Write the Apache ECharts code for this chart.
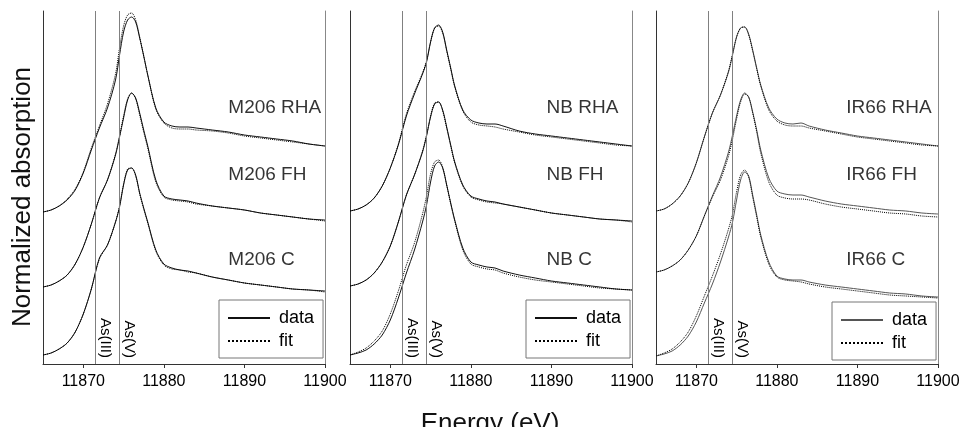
<!DOCTYPE html>
<html><head><meta charset="utf-8">
<script src="https://cdn.jsdelivr.net/npm/echarts@6/dist/echarts.min.js"></script>
<style>html,body{margin:0;padding:0;background:#fff}#c{width:963px;height:427px}</style>
</head><body><div id="c"></div>
<script>
// Energy grid (eV)
const energy = [11865, 11866, 11867, 11868, 11869, 11870, 11871, 11872, 11873, 11874, 11874.5, 11875, 11875.5, 11876, 11876.5, 11877, 11877.5, 11878, 11879, 11880, 11881, 11882, 11883, 11884, 11886, 11888, 11890, 11892, 11894, 11896, 11898, 11900];

// M206 (stacked, offset normalized absorption)
const m206RHA    = [1.52,1.54,1.58,1.64,1.74,1.91,2.14,2.36,2.56,2.84,3.09,3.32,3.44,3.47,3.42,3.26,3.08,2.89,2.56,2.42,2.38,2.37,2.37,2.36,2.34,2.32,2.29,2.27,2.25,2.23,2.20,2.18];
const m206RHAFit = [1.52,1.54,1.58,1.65,1.75,1.92,2.16,2.38,2.60,2.90,3.16,3.38,3.49,3.51,3.44,3.27,3.08,2.89,2.55,2.41,2.36,2.35,2.35,2.34,2.33,2.31,2.28,2.26,2.24,2.22,2.20,2.18];
const m206FH     = [0.77,0.79,0.83,0.89,1.00,1.17,1.40,1.66,1.84,2.09,2.27,2.46,2.64,2.71,2.66,2.51,2.34,2.18,1.84,1.68,1.65,1.64,1.63,1.61,1.58,1.56,1.54,1.51,1.49,1.47,1.45,1.44];
const m206FHFit  = [0.77,0.79,0.83,0.89,1.00,1.17,1.40,1.66,1.84,2.10,2.28,2.48,2.65,2.71,2.65,2.49,2.32,2.16,1.82,1.67,1.64,1.63,1.62,1.60,1.58,1.56,1.54,1.51,1.49,1.47,1.45,1.43];
const m206C      = [0.09,0.11,0.15,0.21,0.32,0.50,0.75,1.06,1.19,1.42,1.57,1.79,1.94,1.96,1.89,1.71,1.56,1.42,1.14,1.00,0.96,0.94,0.93,0.91,0.87,0.84,0.81,0.79,0.77,0.75,0.74,0.73];
const m206CFit   = [0.09,0.11,0.15,0.21,0.32,0.50,0.75,1.05,1.19,1.42,1.58,1.80,1.95,1.96,1.88,1.70,1.55,1.41,1.13,0.99,0.95,0.94,0.92,0.91,0.87,0.84,0.81,0.79,0.77,0.75,0.74,0.72];

// NB
const nbRHA    = [1.53,1.55,1.59,1.66,1.78,1.96,2.19,2.48,2.70,2.90,3.02,3.22,3.36,3.39,3.32,3.14,2.96,2.78,2.54,2.44,2.41,2.40,2.40,2.38,2.33,2.30,2.28,2.26,2.24,2.22,2.20,2.18];
const nbRHAFit = [1.53,1.55,1.59,1.66,1.78,1.96,2.20,2.50,2.72,2.91,3.03,3.22,3.36,3.38,3.31,3.13,2.95,2.77,2.53,2.42,2.39,2.38,2.37,2.35,2.32,2.29,2.27,2.25,2.23,2.21,2.19,2.18];
const nbFH     = [0.78,0.80,0.84,0.91,1.02,1.18,1.42,1.69,1.89,2.12,2.28,2.47,2.60,2.62,2.54,2.37,2.19,2.02,1.79,1.68,1.65,1.63,1.62,1.60,1.57,1.54,1.51,1.49,1.47,1.45,1.44,1.43];
const nbFHFit  = [0.78,0.80,0.84,0.91,1.02,1.18,1.42,1.69,1.89,2.13,2.29,2.48,2.61,2.62,2.53,2.36,2.18,2.01,1.78,1.67,1.64,1.62,1.61,1.60,1.57,1.54,1.51,1.49,1.47,1.45,1.44,1.42];
const nbC      = [0.09,0.11,0.14,0.20,0.29,0.44,0.66,0.91,1.14,1.42,1.59,1.82,1.98,2.02,1.96,1.79,1.61,1.44,1.16,1.02,0.99,0.97,0.96,0.93,0.89,0.86,0.83,0.81,0.79,0.77,0.75,0.74];
const nbCFit   = [0.09,0.12,0.16,0.23,0.33,0.50,0.73,0.99,1.21,1.50,1.68,1.90,2.02,2.04,1.97,1.79,1.60,1.43,1.14,1.00,0.97,0.95,0.94,0.91,0.87,0.84,0.82,0.80,0.78,0.76,0.75,0.74];

// IR66
const ir66RHA    = [1.53,1.55,1.60,1.68,1.81,2.01,2.27,2.51,2.69,2.92,3.09,3.27,3.36,3.37,3.30,3.14,2.96,2.79,2.56,2.45,2.41,2.40,2.41,2.38,2.34,2.31,2.28,2.26,2.24,2.22,2.20,2.18];
const ir66RHAFit = [1.53,1.55,1.60,1.68,1.81,2.01,2.27,2.51,2.69,2.93,3.10,3.27,3.36,3.37,3.29,3.13,2.95,2.78,2.54,2.43,2.39,2.38,2.38,2.36,2.33,2.30,2.27,2.25,2.23,2.21,2.19,2.18];
const ir66FH     = [0.92,0.94,0.98,1.04,1.14,1.28,1.48,1.68,1.87,2.12,2.29,2.48,2.64,2.71,2.67,2.52,2.34,2.14,1.86,1.73,1.70,1.69,1.69,1.67,1.63,1.60,1.58,1.56,1.54,1.53,1.51,1.50];
const ir66FHFit  = [0.92,0.94,0.98,1.04,1.14,1.28,1.48,1.67,1.84,2.08,2.25,2.45,2.62,2.70,2.67,2.51,2.32,2.11,1.82,1.69,1.66,1.65,1.65,1.64,1.60,1.57,1.55,1.53,1.51,1.50,1.48,1.47];
const ir66C      = [0.08,0.10,0.13,0.19,0.28,0.42,0.61,0.80,1.02,1.27,1.42,1.64,1.84,1.92,1.88,1.69,1.49,1.29,1.02,0.88,0.85,0.84,0.84,0.82,0.79,0.77,0.75,0.73,0.71,0.70,0.68,0.67];
const ir66CFit   = [0.08,0.11,0.15,0.22,0.32,0.48,0.68,0.88,1.10,1.35,1.50,1.72,1.89,1.94,1.87,1.67,1.47,1.27,1.00,0.87,0.84,0.83,0.82,0.80,0.77,0.75,0.73,0.71,0.69,0.68,0.67,0.66];

// Labels / references
const sampleNames = ['M206', 'NB', 'IR66'];
const treatments = ['RHA', 'FH', 'C'];
const labelEnergy = [11888, 11889.4, 11888.6];
const labelLevels = [2.56, 1.89, 1.04];
const asEnergies = [11871.5, 11874.5];
const asLabels = ['As(III)', 'As(V)'];
const tickValues = [11870, 11880, 11890, 11900];

const FONT = '"Liberation Sans", Arial, Helvetica, sans-serif';
const gridLefts = [43, 350, 656];
const legendPos = [[219, 300], [526, 300], [832, 302]];
const dataColors = ['#111111', '#111111', '#555555'];
const curves = [[m206RHA, m206FH, m206C], [nbRHA, nbFH, nbC], [ir66RHA, ir66FH, ir66C]];
const fits = [[m206RHAFit, m206FHFit, m206CFit], [nbRHAFit, nbFHFit, nbCFit], [ir66RHAFit, ir66FHFit, ir66CFit]];
const YMAX = 3.53;

const grid = [], xAxis = [], yAxis = [], series = [], legend = [];
sampleNames.forEach((name, i) => {
  grid.push({ left: gridLefts[i], top: 11, width: 282, height: 353 });
  xAxis.push({
    type: 'value', gridIndex: i, min: 11865, max: 11900,
    axisLine: { show: true, lineStyle: { color: '#333', width: 1 } },
    axisTick: { show: true, customValues: tickValues, length: 4, lineStyle: { color: '#333' } },
    axisLabel: { customValues: tickValues, formatter: v => String(v), fontSize: 16, color: '#000', margin: 10, fontFamily: FONT },
    splitLine: { show: false }
  });
  yAxis.push({
    type: 'value', gridIndex: i, min: 0, max: YMAX,
    axisLine: { show: true, lineStyle: { color: '#333', width: 1 } },
    axisTick: { show: false }, axisLabel: { show: false }, splitLine: { show: false }
  });
  yAxis.push({
    type: 'value', gridIndex: i, min: 0, max: YMAX, position: 'right',
    axisLine: { show: true, lineStyle: { color: '#888', width: 1 } },
    axisTick: { show: false }, axisLabel: { show: false }, splitLine: { show: false }
  });
  curves[i].forEach((arr) => {
    series.push({
      type: 'line', name: 'data' + i, xAxisIndex: i, yAxisIndex: 2 * i,
      symbol: 'none', smooth: 0.3, color: dataColors[i],
      lineStyle: { color: dataColors[i], width: 1 },
      data: energy.map((e, j) => [e, arr[j]])
    });
  });
  fits[i].forEach((arr) => {
    series.push({
      type: 'line', name: 'fit' + i, xAxisIndex: i, yAxisIndex: 2 * i,
      symbol: 'none', smooth: 0.3, color: '#000',
      lineStyle: { color: '#000', width: 1, type: 'dotted' },
      data: energy.map((e, j) => [e, arr[j]])
    });
  });
  series.push({
    type: 'line', name: 'ref' + i, xAxisIndex: i, yAxisIndex: 2 * i, data: [],
    markLine: {
      silent: true, symbol: ['none', 'none'], animation: false,
      lineStyle: { color: '#808080', width: 1, type: 'solid' },
      label: { show: true, position: 'insideEndTop', formatter: '{b}', fontSize: 15, color: '#000', fontFamily: FONT, distance: [6, 2] },
      data: asEnergies.map((e, k) => [{ name: asLabels[k], coord: [e, YMAX] }, { coord: [e, 0] }])
    }
  });
  series.push({
    type: 'scatter', name: 'lab' + i, xAxisIndex: i, yAxisIndex: 2 * i,
    symbolSize: 0, silent: true,
    label: { show: true, position: 'right', distance: 0, formatter: '{b}', fontSize: 19, color: '#000', fontFamily: FONT },
    data: treatments.map((t, k) => ({ name: name + ' ' + t, value: [labelEnergy[i], labelLevels[k]] }))
  });
  legend.push({
    orient: 'vertical', left: legendPos[i][0], top: legendPos[i][1],
    data: ['data' + i, 'fit' + i], formatter: n => n.replace(/\d+$/, ''),
    itemWidth: 42, itemHeight: 14, itemGap: 5, padding: [9, 9, 8, 8],
    borderColor: '#777', borderWidth: 1, selectedMode: false,
    itemStyle: { opacity: 0 },
    textStyle: { fontSize: 18, color: '#000', fontFamily: FONT, padding: [0, 0, 0, 4] }
  });
});

const chart = echarts.init(document.getElementById('c'));
chart.setOption({
  animation: false,
  backgroundColor: '#fff',
  grid, xAxis, yAxis, series, legend,
  graphic: [
    { type: 'text', x: 23, y: 197, rotation: Math.PI / 2,
      style: { text: 'Normalized absorption', font: '26px ' + FONT, fill: '#111', textAlign: 'center', textVerticalAlign: 'middle' } },
    { type: 'text', x: 490, y: 424,
      style: { text: 'Energy (eV)', font: '26px ' + FONT, fill: '#111', textAlign: 'center', textVerticalAlign: 'middle' } }
  ]
});
</script></body></html>
